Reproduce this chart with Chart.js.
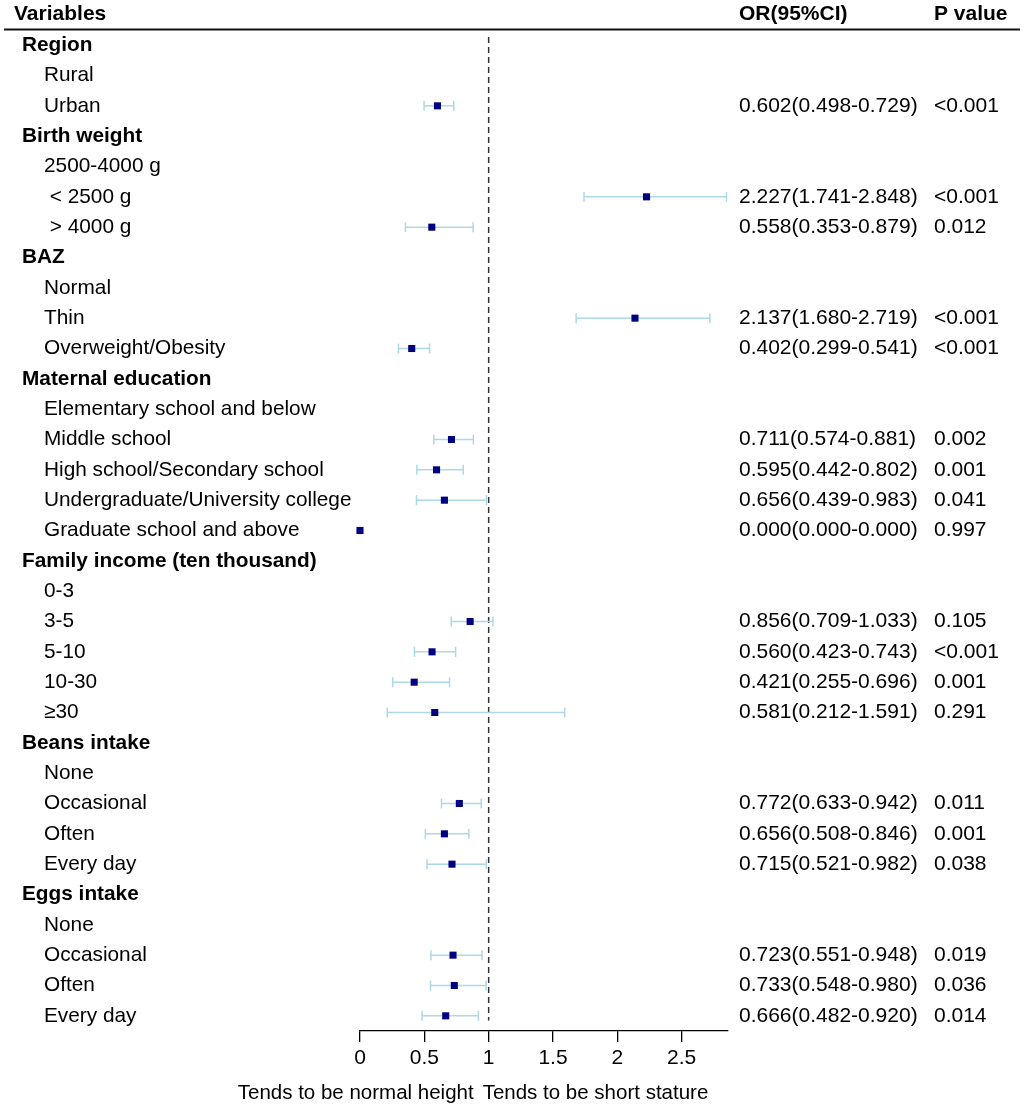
<!DOCTYPE html>
<html>
<head>
<meta charset="utf-8">
<script src="https://cdn.jsdelivr.net/npm/chart.js@4/dist/chart.umd.min.js"></script>
<style>
  html, body { margin: 0; padding: 0; background: #fff; }
  #wrap { width: 1026px; height: 1110px; position: relative; }
</style>
</head>
<body>
<div id="wrap"><canvas id="forest"></canvas></div>
<script>
// lignes du tableau (groupes en gras)
const rowLabels = [
  "Region", "Rural", "Urban",
  "Birth weight", "2500-4000 g", " < 2500 g", " > 4000 g",
  "BAZ", "Normal", "Thin", "Overweight/Obesity",
  "Maternal education", "Elementary school and below", "Middle school",
  "High school/Secondary school", "Undergraduate/University college", "Graduate school and above",
  "Family income (ten thousand)", "0-3", "3-5", "5-10", "10-30", "≥30",
  "Beans intake", "None", "Occasional", "Often", "Every day",
  "Eggs intake", "None", "Occasional", "Often", "Every day"
];
const groupRows = [0, 3, 7, 11, 17, 23, 28];

const orValues = [
  null, null, 0.602,
  null, null, 2.227, 0.558,
  null, null, 2.137, 0.402,
  null, null, 0.711, 0.595, 0.656, 0.000,
  null, null, 0.856, 0.560, 0.421, 0.581,
  null, null, 0.772, 0.656, 0.715,
  null, null, 0.723, 0.733, 0.666
];
const ciLow = [
  null, null, 0.498,
  null, null, 1.741, 0.353,
  null, null, 1.680, 0.299,
  null, null, 0.574, 0.442, 0.439, 0.000,
  null, null, 0.709, 0.423, 0.255, 0.212,
  null, null, 0.633, 0.508, 0.521,
  null, null, 0.551, 0.548, 0.482
];
const ciHigh = [
  null, null, 0.729,
  null, null, 2.848, 0.879,
  null, null, 2.719, 0.541,
  null, null, 0.881, 0.802, 0.983, 0.000,
  null, null, 1.033, 0.743, 0.696, 1.591,
  null, null, 0.942, 0.846, 0.982,
  null, null, 0.948, 0.980, 0.920
];
const pValues = [
  "", "", "<0.001",
  "", "", "<0.001", "0.012",
  "", "", "<0.001", "<0.001",
  "", "", "0.002", "0.001", "0.041", "0.997",
  "", "", "0.105", "<0.001", "0.001", "0.291",
  "", "", "0.011", "0.001", "0.038",
  "", "", "0.019", "0.036", "0.014"
];
const xTicks = [0, 0.5, 1, 1.5, 2, 2.5];

const FONT = "'Liberation Sans', Arial, sans-serif";
const BLUE_BAR = "#add8e6";
const NAVY = "#000080";

// points OR
const pointData = [];
orValues.forEach((v, i) => { if (v !== null) pointData.push({ x: v, y: i }); });

const datasets = [{
  label: "OR",
  data: pointData,
  pointStyle: "rect",
  pointRadius: 5,
  pointBackgroundColor: NAVY,
  pointBorderColor: NAVY,
  pointBorderWidth: 0,
  showLine: false,
  clip: false
}];

// intervalles de confiance
orValues.forEach((v, i) => {
  if (v === null || ciHigh[i] <= ciLow[i]) return;
  datasets.push({
    label: "CI " + i,
    data: [{ x: ciLow[i], y: i }, { x: ciHigh[i], y: i }],
    showLine: true,
    borderColor: BLUE_BAR,
    borderWidth: 1.5,
    pointStyle: "line",
    rotation: 90,
    pointRadius: 5,
    pointBorderColor: BLUE_BAR,
    pointBorderWidth: 1.5,
    clip: false
  });
});

// ligne de référence OR = 1
datasets.push({
  label: "ref",
  data: [{ x: 1, y: -0.27 }, { x: 1, y: 32.15 }],
  showLine: true,
  borderColor: "#333",
  borderWidth: 1.5,
  borderDash: [6, 4],
  pointRadius: 0
});

const tablePlugin = {
  id: "tableText",
  afterDraw(chart) {
    const ctx = chart.ctx;
    const y = chart.scales.y;
    const x = chart.scales.x;
    ctx.save();
    ctx.fillStyle = "#000";
    ctx.textBaseline = "middle";
    ctx.textAlign = "left";

    // en-tête
    ctx.font = "bold 21px " + FONT;
    ctx.fillText("Variables", 14, 14);
    ctx.fillText("OR(95%CI)", 739, 14);
    ctx.fillText("P value", 934, 14);
    ctx.strokeStyle = "#111";
    ctx.lineWidth = 2.2;
    ctx.beginPath();
    ctx.moveTo(4, 29.5);
    ctx.lineTo(1020, 29.5);
    ctx.stroke();

    rowLabels.forEach((lab, i) => {
      const py = y.getPixelForValue(i);
      const isGroup = groupRows.includes(i);
      ctx.font = (isGroup ? "bold " : "") + "20.8px " + FONT;
      ctx.fillText(lab, isGroup ? 22 : 44, py);
      if (orValues[i] !== null) {
        ctx.font = "21px " + FONT;
        const txt = orValues[i].toFixed(3) + "(" + ciLow[i].toFixed(3) + "-" + ciHigh[i].toFixed(3) + ")";
        ctx.fillText(txt, 739, py);
        ctx.fillText(pValues[i], 934, py);
      }
    });

    // légende sous l'axe
    const x1 = x.getPixelForValue(1);
    ctx.font = "20.5px " + FONT;
    ctx.textAlign = "right";
    ctx.fillText("Tends to be normal height", x1 - 15, 1093);
    ctx.textAlign = "left";
    ctx.fillText("Tends to be short stature", x1 - 6, 1093);
    ctx.restore();
  }
};

new Chart(document.getElementById("forest"), {
  type: "scatter",
  data: { datasets: datasets },
  options: {
    responsive: true,
    maintainAspectRatio: false,
    animation: false,
    layout: { padding: { left: 360, right: 298, top: 30, bottom: 0 } },
    plugins: {
      legend: { display: false },
      tooltip: { enabled: false }
    },
    scales: {
      x: {
        type: "linear",
        min: 0,
        max: 2.86,
        afterFit(scale) { scale.height = 79; },
        afterBuildTicks(scale) { scale.ticks = xTicks.map(v => ({ value: v })); },
        ticks: {
          includeBounds: false,
          color: "#000",
          padding: 4,
          font: { family: FONT, size: 21 },
          callback: v => String(v)
        },
        grid: {
          drawOnChartArea: false,
          drawTicks: true,
          tickLength: 11,
          color: "#000",
          lineWidth: 1.3
        },
        border: { display: true, color: "#000", width: 1.3 }
      },
      y: {
        type: "linear",
        display: false,
        reverse: true,
        min: -0.5,
        max: 32.5
      }
    }
  },
  plugins: [tablePlugin]
});
</script>
</body>
</html>
